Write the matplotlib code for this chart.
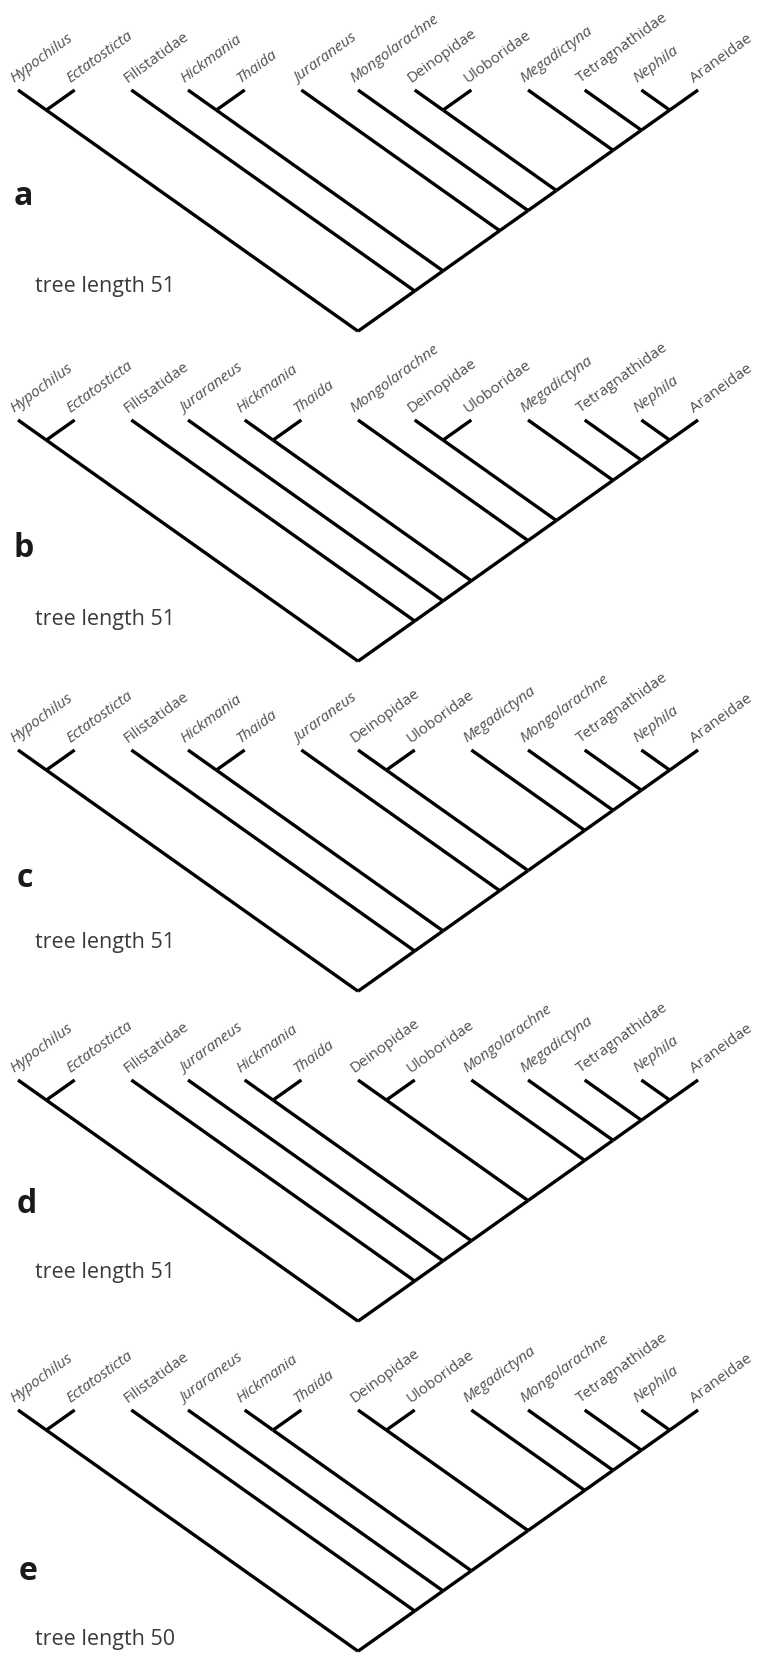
import matplotlib
matplotlib.use("Agg")
import matplotlib.pyplot as plt

# ---------------- data ----------------
panel_letters = ["a", "b", "c", "d", "e"]
tree_lengths = [51, 51, 51, 51, 50]
trees = [
    "((Hypochilus,Ectatosticta),(Filistatidae,((Hickmania,Thaida),(Juraraneus,(Mongolarachne,((Deinopidae,Uloboridae),(Megadictyna,(Tetragnathidae,(Nephila,Araneidae)))))))))",
    "((Hypochilus,Ectatosticta),(Filistatidae,(Juraraneus,((Hickmania,Thaida),(Mongolarachne,((Deinopidae,Uloboridae),(Megadictyna,(Tetragnathidae,(Nephila,Araneidae)))))))))",
    "((Hypochilus,Ectatosticta),(Filistatidae,((Hickmania,Thaida),(Juraraneus,((Deinopidae,Uloboridae),(Megadictyna,(Mongolarachne,(Tetragnathidae,(Nephila,Araneidae)))))))))",
    "((Hypochilus,Ectatosticta),(Filistatidae,(Juraraneus,((Hickmania,Thaida),((Deinopidae,Uloboridae),(Mongolarachne,(Megadictyna,(Tetragnathidae,(Nephila,Araneidae)))))))))",
    "((Hypochilus,Ectatosticta),(Filistatidae,(Juraraneus,((Hickmania,Thaida),((Deinopidae,Uloboridae),(Megadictyna,(Mongolarachne,(Tetragnathidae,(Nephila,Araneidae)))))))))",
]
genera = ["Hypochilus", "Ectatosticta", "Hickmania", "Thaida", "Juraraneus",
          "Mongolarachne", "Megadictyna", "Nephila"]

# ---------------- layout ----------------
W, H = 758, 1665
PANEL_H = 330
LEAF_X0, LEAF_DX = 18.0, 56.67      # px
LEAF_Y = 91.0                        # px within panel
DEPTH_PX = 40.2                      # px per depth unit
letter_y = [205, 227, 227, 223, 260]
letter_x = [14, 14, 17, 17, 19]
tl_y = [292, 295, 288, 288, 325]
TL_X = 35

FONT = "Open Sans"
plt.rcParams["font.family"] = [FONT, "DejaVu Sans"]


def parse(s):
    s = s.strip().rstrip(";")
    pos = 0

    def node():
        nonlocal pos
        if s[pos] == "(":
            pos += 1
            kids = [node()]
            while s[pos] == ",":
                pos += 1
                kids.append(node())
            pos += 1  # ')'
            return kids
        start = pos
        while pos < len(s) and s[pos] not in ",()":
            pos += 1
        return s[start:pos]
    return node()


fig = plt.figure(figsize=(W / 100, H / 100), dpi=100)

for k, (nw, letter, tl) in enumerate(zip(trees, panel_letters, tree_lengths)):
    ax = fig.add_axes([0, 1 - PANEL_H * (k + 1) / H, 1, PANEL_H / H])
    ax.set_xlim(-LEAF_X0 / LEAF_DX, (W - LEAF_X0) / LEAF_DX)
    ax.set_ylim((PANEL_H - LEAF_Y) / DEPTH_PX, -LEAF_Y / DEPTH_PX)
    ax.axis("off")

    tree = parse(nw)
    leaves = []

    def layout(n):
        # returns (x, depth, xL, xR)
        if isinstance(n, str):
            i = len(leaves)
            leaves.append(n)
            return (float(i), 0.0, float(i), float(i))
        res = [layout(c) for c in n]
        xL = res[0][2]
        xR = res[-1][3]
        x = (xL + xR) / 2
        d = (xR - xL) / 2
        for (cx, cd, _, _) in res:
            ax.plot([x, cx], [d, cd], color="black", lw=2.4,
                    solid_capstyle="butt", clip_on=False)
        return (x, d, xL, xR)

    layout(tree)

    for i, name in enumerate(leaves):
        ax.text(i - 4 / LEAF_DX, -8 / DEPTH_PX, name, rotation=36,
                rotation_mode="anchor", ha="left", va="baseline",
                fontsize=11, color="#505050",
                style="italic" if name in genera else "normal",
                family=[FONT, "DejaVu Sans"])

    ax.text(letter_x[k] / W, 1 - letter_y[k] / PANEL_H, letter,
            transform=ax.transAxes, ha="left", va="baseline",
            fontsize=23, fontweight="bold", color="#1a1a1a")
    ax.text(TL_X / W, 1 - tl_y[k] / PANEL_H, f"tree length {tl}",
            transform=ax.transAxes, ha="left", va="baseline",
            fontsize=15.5, color="#3a3a3a")

fig.savefig("out.png", dpi=100, facecolor="white")
